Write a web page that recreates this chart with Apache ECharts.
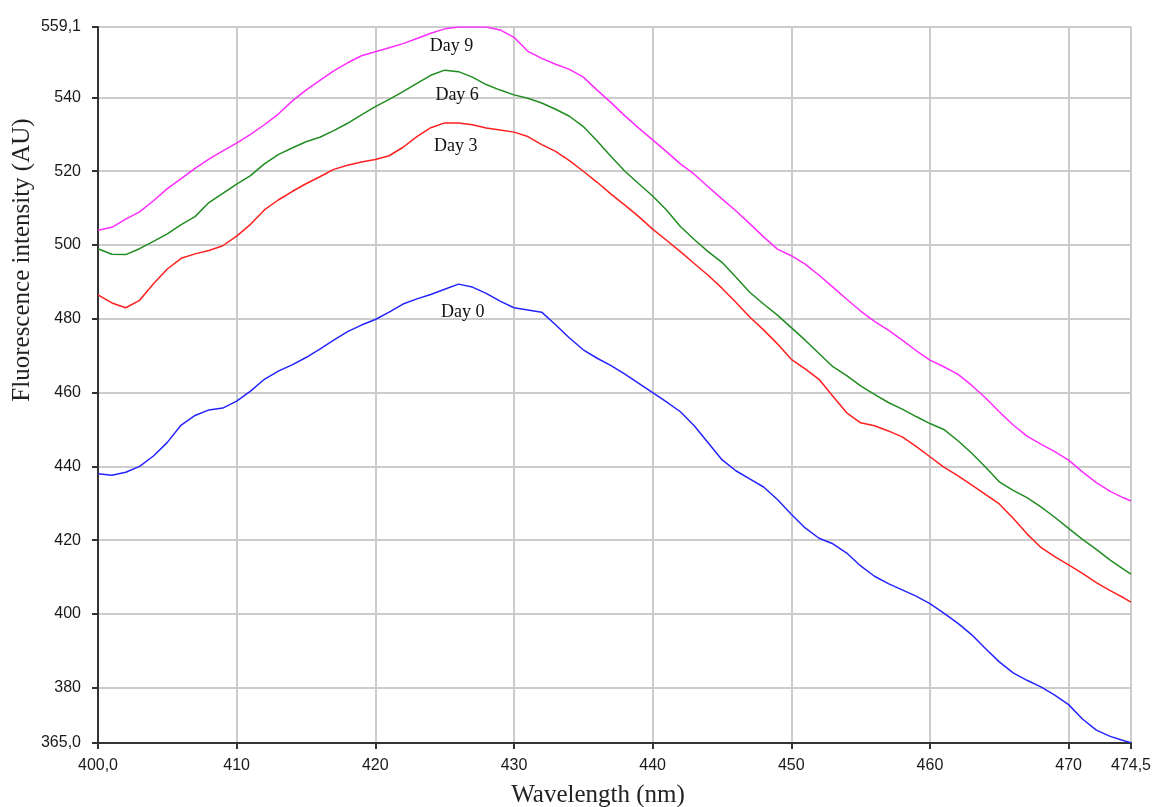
<!DOCTYPE html>
<html>
<head>
<meta charset="utf-8">
<title>Fluorescence spectra</title>
<script src="https://cdn.jsdelivr.net/npm/echarts@6/dist/echarts.min.js"></script>
<style>
  html, body { margin: 0; padding: 0; background: #ffffff; }
  #chart { width: 1157px; height: 807px; }
</style>
</head>
<body>
<div id="chart"></div>
<script>
// Emission wavelengths (nm)
const wavelengths = [
  400, 401, 402, 403, 404, 405, 406, 407, 408, 409,
  410, 411, 412, 413, 414, 415, 416, 417, 418, 419,
  420, 421, 422, 423, 424, 425, 426, 427, 428, 429,
  430, 431, 432, 433, 434, 435, 436, 437, 438, 439,
  440, 441, 442, 443, 444, 445, 446, 447, 448, 449,
  450, 451, 452, 453, 454, 455, 456, 457, 458, 459,
  460, 461, 462, 463, 464, 465, 466, 467, 468, 469,
  470, 471, 472, 473, 474, 474.5
];

// Fluorescence intensity (AU) per storage day
const day0 = [
  438.0, 437.6, 438.4, 440.0, 442.8, 446.5, 451.2, 453.8, 455.3, 455.8,
  457.7, 460.4, 463.6, 465.8, 467.5, 469.5, 471.8, 474.2, 476.5, 478.3,
  479.8, 481.8, 484.0, 485.4, 486.6, 488.0, 489.4, 488.6, 486.9, 484.8,
  483.0, 482.4, 481.8, 478.4, 474.8, 471.6, 469.3, 467.3, 465.0, 462.5,
  460.0, 457.5, 454.8, 451.0, 446.4, 441.8, 438.8, 436.6, 434.4, 431.0,
  427.0, 423.3, 420.5, 419.0, 416.5, 413.0, 410.2, 408.2, 406.5, 404.8,
  402.8, 400.2, 397.5, 394.4, 390.6, 387.0, 384.0, 382.0, 380.2, 378.0,
  375.4, 371.5, 368.5, 366.8, 365.6, 365.1
];
const day3 = [
  486.5, 484.3, 483.0, 485.0, 489.5, 493.5, 496.4, 497.6, 498.5, 499.8,
  502.4, 505.6, 509.5, 512.2, 514.5, 516.6, 518.5, 520.5, 521.6, 522.5,
  523.2, 524.2, 526.5, 529.4, 531.8, 533.1, 533.1, 532.6, 531.7, 531.2,
  530.6, 529.4, 527.2, 525.4, 522.9, 520.0, 517.0, 513.8, 510.8, 507.7,
  504.3, 501.3, 498.2, 495.0, 491.8, 488.3, 484.5, 480.5, 477.0, 473.2,
  469.0, 466.4, 463.6, 459.0, 454.5, 451.8, 451.0, 449.6, 448.0, 445.4,
  442.6, 439.8, 437.5, 435.0, 432.4, 429.8, 425.9, 421.7, 418.0, 415.5,
  413.3, 411.0, 408.5, 406.3, 404.3, 403.2
];
const day6 = [
  499.0, 497.5, 497.4, 499.0, 501.0, 503.0, 505.5, 507.7, 511.5, 514.0,
  516.5, 518.8, 522.0, 524.5, 526.3, 528.0, 529.2, 531.0, 533.0, 535.3,
  537.5, 539.5, 541.6, 543.8, 546.0, 547.4, 547.0, 545.5, 543.5, 542.0,
  540.7, 539.8, 538.5, 536.8, 534.9, 532.1, 528.2, 524.0, 520.0, 516.6,
  513.3, 509.5, 505.0, 501.5, 498.2, 495.3, 491.3, 487.2, 484.0, 481.0,
  477.6, 474.2, 470.6, 467.0, 464.6, 461.8, 459.5, 457.3, 455.5, 453.5,
  451.6, 450.0, 447.0, 443.6, 439.8, 435.8, 433.5, 431.5, 429.0, 426.2,
  423.2, 420.2, 417.5, 414.6, 412.0, 410.8
];
const day9 = [
  504.0, 504.8, 507.0, 509.0, 512.0, 515.3, 518.0, 520.8, 523.3, 525.5,
  527.6, 530.0, 532.6, 535.5, 539.0, 542.0, 544.6, 547.2, 549.4, 551.3,
  552.4, 553.5, 554.6, 556.0, 557.4, 558.6, 559.1, 559.1, 559.1, 558.3,
  556.3, 552.5, 550.6, 549.0, 547.6, 545.5, 542.0, 538.6, 535.0, 531.7,
  528.5, 525.3, 522.0, 519.2, 515.8, 512.5, 509.3, 505.8, 502.2, 498.9,
  497.1, 494.8, 491.8, 488.6, 485.3, 482.1, 479.3, 476.9, 474.2, 471.4,
  468.8, 467.0, 465.0, 462.0, 458.6, 454.8, 451.2, 448.2, 446.0, 444.0,
  441.7, 438.5, 435.6, 433.2, 431.4, 430.6
];

// Axis ticks and labels
const xTicks = [400, 410, 420, 430, 440, 450, 460, 470, 474.5];
const yTicks = [365, 380, 400, 420, 440, 460, 480, 500, 520, 540, 559.1];
const xRange = [400, 474.5];
const yRange = [365, 559.1];

// Curve names and where their names are written
const seriesNames = ['Day 0', 'Day 3', 'Day 6', 'Day 9'];
const labelPositions = [[426.3, 481.7], [425.8, 526.9], [425.9, 540.7], [425.5, 554.0]];

const seriesValues = [day0, day3, day6, day9];
const seriesColors = ['#2424ff', '#ff2020', '#218c21', '#ff2cff'];

function edgeFormat(v, ends) {
  if (ends.indexOf(v) >= 0) return v.toFixed(1).replace('.', ',');
  return String(v);
}

const chart = echarts.init(document.getElementById('chart'));

const series = seriesValues.map((vals, i) => ({
  name: seriesNames[i],
  type: 'line',
  data: wavelengths.map((w, j) => [w, vals[j]]),
  showSymbol: false,
  symbol: 'none',
  smooth: false,
  animation: false,
  lineStyle: { color: seriesColors[i], width: 1.5 },
  markPoint: {
    symbol: 'circle',
    symbolSize: 1,
    itemStyle: { color: 'rgba(0,0,0,0)' },
    label: {
      show: true,
      position: 'inside',
      formatter: seriesNames[i],
      color: '#111',
      fontFamily: 'Liberation Serif',
      fontSize: 18
    },
    data: [{ coord: labelPositions[i] }]
  }
}));

chart.setOption({
  backgroundColor: '#ffffff',
  animation: false,
  grid: { left: 98, right: 26, top: 27, bottom: 64, containLabel: false },
  xAxis: {
    type: 'value',
    min: xRange[0],
    max: xRange[1],
    axisLine: { show: true, lineStyle: { color: '#333', width: 2 } },
    axisTick: { show: true, length: 6, lineStyle: { color: '#333', width: 2 }, customValues: xTicks },
    axisLabel: {
      customValues: xTicks,
      margin: 15,
      color: '#1a1a1a',
      fontFamily: 'Liberation Sans',
      fontSize: 16,
      formatter: v => edgeFormat(v, xRange)
    },
    splitLine: { show: true, lineStyle: { color: '#cccccc', width: 2 } }
  },
  yAxis: {
    type: 'value',
    min: yRange[0],
    max: yRange[1],
    axisLine: { show: true, lineStyle: { color: '#333', width: 2 } },
    axisTick: { show: true, length: 6, lineStyle: { color: '#333', width: 2 }, customValues: yTicks },
    axisLabel: {
      customValues: yTicks,
      margin: 17,
      color: '#1a1a1a',
      fontFamily: 'Liberation Sans',
      fontSize: 16,
      padding: [0, 0, 11, 0],
      formatter: v => edgeFormat(v, yRange)
    },
    splitLine: { show: true, lineStyle: { color: '#cccccc', width: 2 } }
  },
  graphic: [
    {
      type: 'text',
      x: 598,
      y: 795,
      style: {
        text: 'Wavelength (nm)',
        fontFamily: 'Liberation Serif',
        fontSize: 25,
        fill: '#222',
        align: 'center',
        verticalAlign: 'middle'
      }
    },
    {
      type: 'text',
      x: 22,
      y: 260,
      rotation: Math.PI / 2,
      style: {
        text: 'Fluorescence intensity (AU)',
        fontFamily: 'Liberation Serif',
        fontSize: 25,
        fill: '#222',
        align: 'center',
        verticalAlign: 'middle'
      }
    }
  ],
  series: series
});
</script>
</body>
</html>
